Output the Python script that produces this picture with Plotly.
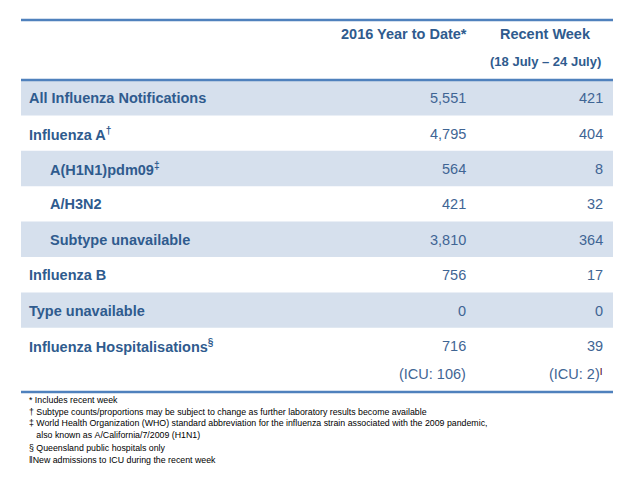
import plotly.graph_objects as go

# ---- data ----
col_headers = ["2016 Year to Date*", "Recent Week"]
col_subheader = "(18 July – 24 July)"
row_labels = ["All Influenza Notifications", "Influenza A", "A(H1N1)pdm09", "A/H3N2",
              "Subtype unavailable", "Influenza B", "Type unavailable", "Influenza Hospitalisations"]
row_marks = ["", "†", "‡", "", "", "", "", "§"]
row_indent = [0, 0, 1, 1, 1, 0, 0, 0]
ytd_values = [5551, 4795, 564, 421, 3810, 756, 0, 716]
week_values = [421, 404, 8, 32, 364, 17, 0, 39]
icu_ytd = 106
icu_week = 2
footnotes = [
    "* Includes recent week",
    "† Subtype counts/proportions may be subject to change as further laboratory results become available",
    "‡ World Health Organization (WHO) standard abbreviation for the influenza strain associated with the 2009 pandemic,",
    "   also known as A/California/7/2009 (H1N1)",
    "§ Queensland public hospitals only",
    "‖New admissions to ICU during the recent week",
]

# ---- style ----
W, H = 631, 480
OFF = 8  # page body margin
FONT = "Liberation Sans"
TXT = "#2F5B8E"
VAL = "#3F6594"
SHADE = "#D6E0ED"
LINE = "#4F81BD"
FS = 14.5
left, right = 21, 613
top_line = 20
head_line = 80
row_h = 35.4
col1_right, col2_right = 468, 605

fig = go.Figure()
fig.update_xaxes(range=[OFF, W + OFF], visible=False, fixedrange=True)
fig.update_yaxes(range=[H + OFF, OFF], visible=False, fixedrange=True)

shapes = []
annos = []

def fmt(v):
    return f"{v:,}"

for i, lab in enumerate(row_labels):
    y0 = head_line + i * row_h
    y1 = y0 + row_h
    if i % 2 == 0 and i < len(row_labels) - 1:
        shapes.append(dict(type="rect", x0=left, x1=right, y0=y0, y1=y1,
                           fillcolor=SHADE, line=dict(width=0), layer="below"))
    yc = (y0 + y1) / 2 + 0.5
    text = f"<b>{lab}</b>" + (f"<sup><b>{row_marks[i]}</b></sup>" if row_marks[i] else "")
    annos.append(dict(x=27 + 21 * row_indent[i], y=yc, text=text, showarrow=False,
                      xanchor="left", yanchor="middle",
                      font=dict(family=FONT, size=FS, color=TXT)))
    annos.append(dict(x=col1_right, y=yc, text=fmt(ytd_values[i]), showarrow=False,
                      xanchor="right", yanchor="middle",
                      font=dict(family=FONT, size=FS, color=VAL)))
    annos.append(dict(x=col2_right, y=yc, text=fmt(week_values[i]), showarrow=False,
                      xanchor="right", yanchor="middle",
                      font=dict(family=FONT, size=FS, color=VAL)))

# ICU row
y_icu = head_line + (len(row_labels) - 1) * row_h + row_h / 2 + 28
annos.append(dict(x=col1_right, y=y_icu, text=f"(ICU: {icu_ytd})", showarrow=False,
                  xanchor="right", yanchor="middle",
                  font=dict(family=FONT, size=FS, color=VAL)))
annos.append(dict(x=602, y=y_icu, text=f"(ICU: {icu_week})", showarrow=False,
                  xanchor="right", yanchor="middle",
                  font=dict(family=FONT, size=FS, color=VAL)))
annos.append(dict(x=598, y=y_icu - 3, text="<b>|</b>", showarrow=False,
                  xanchor="left", yanchor="middle",
                  font=dict(family=FONT, size=8, color="#5A1030")))

# headers
annos.append(dict(x=404, y=34, text=f"<b>{col_headers[0]}</b>", showarrow=False,
                  xanchor="center", yanchor="middle",
                  font=dict(family=FONT, size=FS, color=TXT)))
annos.append(dict(x=545, y=34, text=f"<b>{col_headers[1]}</b>", showarrow=False,
                  xanchor="center", yanchor="middle",
                  font=dict(family=FONT, size=FS, color=TXT)))
annos.append(dict(x=545, y=61, text=f"<b>{col_subheader}</b>", showarrow=False,
                  xanchor="center", yanchor="middle",
                  font=dict(family=FONT, size=13, color=TXT)))

# lines
bottom_line = 392
for yy in (top_line, head_line, bottom_line):
    shapes.append(dict(type="line", x0=left, x1=right, y0=yy, y1=yy,
                       line=dict(color=LINE, width=2.5)))

# footnotes
fy = [400, 411.5, 423, 435, 447.5, 459.5]
for t, yy in zip(footnotes, fy):
    annos.append(dict(x=27, y=yy, text=t.replace(" ", "&nbsp;") if t.startswith("   ") else t,
                      showarrow=False, xanchor="left", yanchor="middle",
                      font=dict(family=FONT, size=8.8, color="#000000")))

fig.update_layout(width=W, height=H, margin=dict(l=0, r=0, t=0, b=0),
                  plot_bgcolor="white", paper_bgcolor="white",
                  shapes=shapes, annotations=annos, showlegend=False)
fig.write_html("out.html")
